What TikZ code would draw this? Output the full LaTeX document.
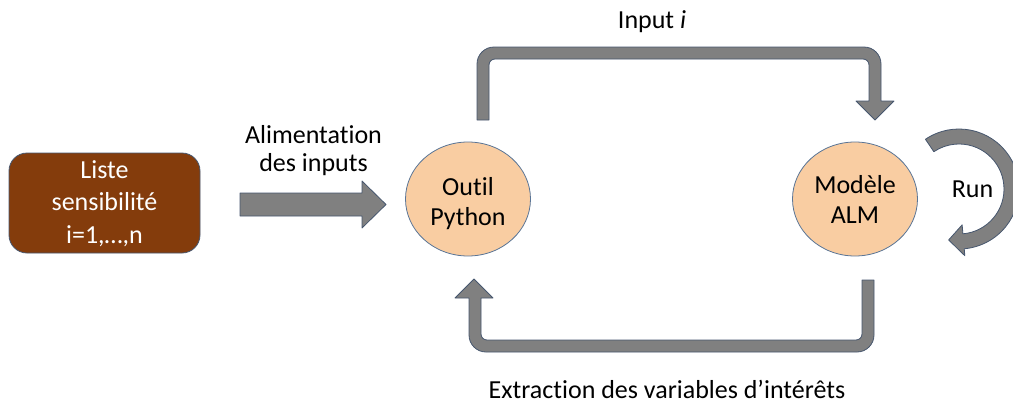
\documentclass[tikz,border=0pt]{standalone}
\usepackage{fontspec}
\setmainfont{Carlito}[Ligatures={NoCommon}]
\usetikzlibrary{shapes.geometric,calc}
\definecolor{brownfill}{HTML}{843C0C}
\definecolor{peach}{HTML}{F9CDA2}
\definecolor{ellline}{HTML}{5A7596}
\definecolor{arrowfill}{HTML}{808080}
\definecolor{arrowline}{HTML}{46566E}
\begin{document}
\begin{tikzpicture}[x=1pt,y=-1pt,
  txt/.style={font=\fontsize{26}{30}\selectfont, inner sep=0pt, align=center},
  blockarrow/.style={fill=arrowfill, draw=arrowline, line width=0.8pt, line join=round},
  ellbox/.style={ellipse, fill=peach, draw=ellline, line width=0.8pt, minimum width=125pt, minimum height=114pt, inner sep=0pt},
  listebox/.style={rectangle, rounded corners=18pt, fill=brownfill, draw=arrowline, line width=0.8pt, minimum width=191pt, minimum height=100pt, inner sep=0pt}
]
\useasboundingbox (0,0) rectangle (1013,405);

% boxes
\node[listebox] (liste) at (104.5,203) {};
\node[txt, text=white, anchor=base, font=\fontsize{26}{32.5}\selectfont] (listet) at (104.5,243) {Liste\\sensibilité\\i=1,…,n};

\node[ellbox] (python) at (468,199) {};
\node[txt, anchor=base] (pythont) at (468,225) {Outil\\Python};

\node[ellbox] (alm) at (855,199) {};
\node[txt, anchor=base] (almt) at (855,223) {Modèle\\ALM};

% labels
\node[txt, anchor=base, font=\fontsize{26}{28}\selectfont] (alim) at (313.5,171) {Alimentation\\des inputs};
\node[txt, anchor=base] (input) at (652,28) {Input \textit{i}};
\node[txt, anchor=base] (extr) at (667,398) {Extraction des variables d’intérêts};
\node[txt, anchor=base] (run) at (972.5,197) {Run};

% left block arrow
\draw[blockarrow] (240,193) -- (362,193) -- (362,181) -- (386,204.5) -- (362,228) -- (362,216) -- (240,216) -- cycle;

% top U-arrow
\draw[blockarrow] (477,120) -- (477,64) arc[start angle=180,end angle=270,radius=17]
  -- (864,47) arc[start angle=270,end angle=360,radius=17]
  -- (881,101) -- (894,101) -- (875,120) -- (856,101) -- (869,101)
  -- (869,65) arc[start angle=0,end angle=-90,radius=6]
  -- (495,59) arc[start angle=270,end angle=180,radius=6]
  -- (489,120) -- cycle;

% bottom U-arrow
\draw[blockarrow] (862,280) -- (874,280) -- (874,335) arc[start angle=0,end angle=90,radius=17]
  -- (486,352) arc[start angle=90,end angle=180,radius=17]
  -- (469,298) -- (455,298) -- (474,279) -- (493,298) -- (481,298)
  -- (481,334) arc[start angle=180,end angle=90,radius=6]
  -- (856,340) arc[start angle=90,end angle=0,radius=6]
  -- cycle;

% run circular arrow
\coordinate (rc) at (959,189);
\draw[blockarrow] ($(rc)+(-124:60)$) arc[start angle=-124,end angle=85,radius=60]
  -- ($(rc)+(85:67)$) -- ($(rc)+(101.5:52)$) -- ($(rc)+(85:36)$) -- ($(rc)+(85:45)$)
  arc[start angle=85,end angle=-124,radius=45] -- cycle;
\end{tikzpicture}
\end{document}
